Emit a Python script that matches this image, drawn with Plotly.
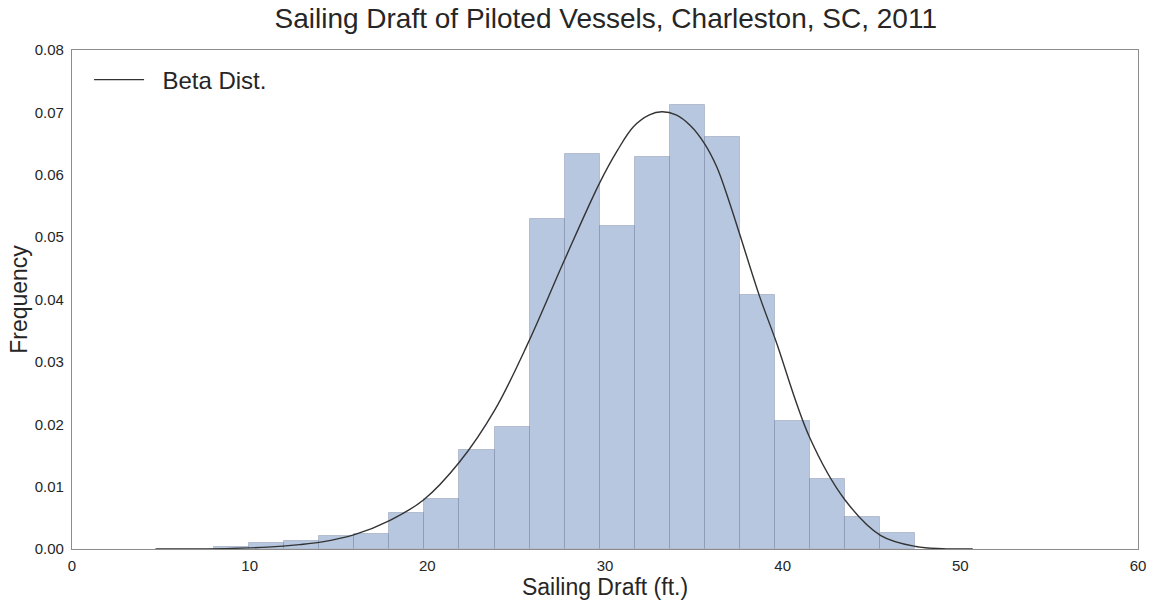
import plotly.graph_objects as go

# Histogram of sailing drafts (density-normalised), 20 bins
bin_edges = [8.00, 9.97, 11.95, 13.92, 15.89, 17.87, 19.84, 21.81, 23.79, 25.76,
             27.73, 29.71, 31.68, 33.65, 35.63, 37.60, 39.57, 41.55, 43.52, 45.49, 47.47]
density = [0.0003, 0.0009, 0.0013, 0.0021, 0.0024, 0.0058, 0.0080, 0.0159, 0.0196, 0.0529,
           0.0633, 0.0518, 0.0628, 0.0712, 0.0661, 0.0407, 0.0205, 0.0112, 0.0051, 0.0026]

# Fitted beta distribution curve
beta_x = [4.7, 7.0, 9.0, 11.0, 12.8, 14.0, 15.9, 17.9, 19.8, 21.8, 23.8, 25.7, 27.7,
          29.7, 30.7, 31.6, 32.5, 33.2, 34.0, 34.8, 35.6, 36.3, 37.0, 37.6, 38.7,
          39.6, 41.5, 43.5, 45.5, 47.5, 49.0, 50.7]
beta_y = [0.0, 0.00002, 0.0001, 0.0003, 0.0007, 0.0011, 0.0023, 0.0046, 0.0079, 0.0139,
          0.0223, 0.0332, 0.0462, 0.0587, 0.0639, 0.0677, 0.0696, 0.0701, 0.0696, 0.0679,
          0.0650, 0.0612, 0.0556, 0.0503, 0.0405, 0.0335, 0.0180, 0.0079, 0.0022, 0.0004,
          0.00005, 0.0]

centers = [(a + b) / 2 for a, b in zip(bin_edges[:-1], bin_edges[1:])]
widths = [b - a for a, b in zip(bin_edges[:-1], bin_edges[1:])]

FONT = "Liberation Sans, Arial, sans-serif"
TXT = "#262626"

fig = go.Figure()
fig.add_trace(go.Bar(
    x=centers, y=density, width=widths,
    marker=dict(color="rgba(76,114,176,0.40)",
                line=dict(color="rgba(120,132,160,0.40)", width=1)),
    showlegend=False, hoverinfo="x+y",
))
fig.add_trace(go.Scatter(
    x=beta_x, y=beta_y, mode="lines", name="\u00a0\u00a0Beta Dist.",
    line=dict(color="#333333", width=1.4, shape="spline", smoothing=1.0),
))

fig.update_layout(
    width=1156, height=600,
    margin=dict(l=72, r=18, t=50, b=51),
    paper_bgcolor="white", plot_bgcolor="white",
    font=dict(family=FONT, color=TXT),
    title=dict(text="Sailing Draft of Piloted Vessels, Charleston, SC, 2011",
               x=0.524, xanchor="center", y=0.97, yanchor="middle",
               font=dict(size=28, color=TXT)),
    bargap=0,
    legend=dict(x=0.016, y=0.985, xanchor="left", yanchor="top", itemwidth=50,
                bgcolor="rgba(0,0,0,0)", font=dict(size=24, color=TXT)),
    xaxis=dict(range=[0, 60], dtick=10, tick0=0, showgrid=False, zeroline=False,
               showline=True, mirror=True, linecolor="#8c8c8c", linewidth=1.3,
               ticks="", ticklabelstandoff=3, automargin=False,
               tickfont=dict(size=15, color=TXT),
               title=dict(text="Sailing Draft (ft.)", font=dict(size=23, color=TXT),
                          standoff=0)),
    yaxis=dict(range=[0, 0.08], dtick=0.01, tick0=0, tickformat=".2f",
               showgrid=False, zeroline=False,
               showline=True, mirror=True, linecolor="#8c8c8c", linewidth=1.3,
               ticks="", ticklabelstandoff=4, automargin=False,
               tickfont=dict(size=15, color=TXT),
               title=dict(text="Frequency", font=dict(size=23, color=TXT),
                          standoff=0)),
)

fig.write_html("out.html")
